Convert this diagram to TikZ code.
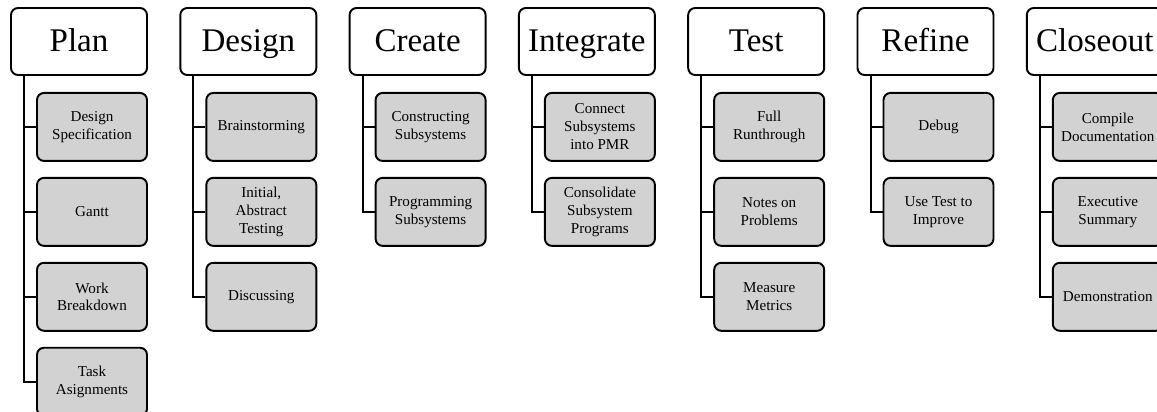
\documentclass[tikz,border=0pt]{standalone}
\usepackage{fontspec}
\setmainfont{Liberation Serif}
\usetikzlibrary{positioning,calc}
\tikzset{
	phase/.style = {
		draw, 
		fill=white, 
		rectangle, 
		minimum width=2.72cm, 
		minimum height=1.34cm, 
		text height=15pt, 
		text depth=4pt, 
		line width=1.1pt, 
		rounded corners=4pt, 
		font=\fontsize{18.8}{22}\selectfont
	},
	task/.style = {
		draw, 
		fill=gray!35, 
		rectangle, 
		minimum width=2.2cm, 
		minimum height=1.36cm, 
		line width=1.1pt, 
		align=center, 
		rounded corners=4pt, 
		font=\fontsize{8.6}{10.2}\selectfont
	},
	link/.style = {
		line width=1.1pt
	}
}
\begin{document}
\begin{tikzpicture}
		
		\useasboundingbox (0,0) rectangle (23.14,-8.24);
		
		% --- Fases ---
		\node [phase] (plan) at (1.58,-0.83) {Plan};
		\node [phase] (design) at (4.966,-0.83) {Design};
		\node [phase] (create) at (8.352,-0.83) {Create};
		\node [phase] (integrate) at (11.738,-0.83) {Integrate};
		\node [phase] (test) at (15.124,-0.83) {Test};
		\node [phase] (refine) at (18.51,-0.83) {Refine};
		\node [phase] (closeout) at (21.896,-0.83) {Closeout};
		
		% --- Tareas de Plan ---
		\node [task, below=0.32cm of plan, xshift=0.26cm] (plan1) {Design\\ Specification};
		\node [task, below=0.30cm of plan1] (plan2) {Gantt};
		\node [task, below=0.30cm of plan2] (plan3) {Work\\ Breakdown};
		\node [task, below=0.30cm of plan3] (plan4) {Task\\ Asignments};
		
		% --- Tareas de Design ---
		\node [task, below=0.32cm of design, xshift=0.26cm] (design1) {Brainstorming};
		\node [task, below=0.30cm of design1] (design2) {Initial,\\ Abstract\\ Testing};
		\node [task, below=0.30cm of design2] (design3) {Discussing};
		
		% --- Tareas de Create ---
		\node [task, below=0.32cm of create, xshift=0.26cm] (create1) {Constructing\\ Subsystems};
		\node [task, below=0.30cm of create1] (create2) {Programming\\ Subsystems};
		
		% --- Tareas de Integrate ---
		\node [task, below=0.32cm of integrate, xshift=0.26cm] (integrate1) {Connect\\ Subsystems\\ into PMR};
		\node [task, below=0.30cm of integrate1] (integrate2) {Consolidate\\ Subsystem\\ Programs};
		
		% --- Tareas de Test ---
		\node [task, below=0.32cm of test, xshift=0.26cm] (test1) {Full\\ Runthrough};
		\node [task, below=0.30cm of test1] (test2) {Notes on\\ Problems};
		\node [task, below=0.30cm of test2] (test3) {Measure\\ Metrics};
		
		% --- Tareas de Refine ---
		\node [task, below=0.32cm of refine, xshift=0.26cm] (refine1) {Debug};
		\node [task, below=0.30cm of refine1] (refine2) {Use Test to\\ Improve};
		
		% --- Tareas de Closeout ---
		\node [task, below=0.32cm of closeout, xshift=0.26cm] (closeout1) {Compile\\ Documentation};
		\node [task, below=0.30cm of closeout1] (closeout2) {Executive\\ Summary};
		\node [task, below=0.30cm of closeout2] (closeout3) {Demonstration};
		
		% --- CONEXIONES ---
		\draw [link] ([xshift=0.28cm]plan.south west) |- (plan1.west)
		([xshift=0.28cm]plan.south west) |- (plan2.west)
		([xshift=0.28cm]plan.south west) |- (plan3.west)
		([xshift=0.28cm]plan.south west) |- (plan4.west);
		\draw [link] ([xshift=0.28cm]design.south west) |- (design1.west)
		([xshift=0.28cm]design.south west) |- (design2.west)
		([xshift=0.28cm]design.south west) |- (design3.west);
		\draw [link] ([xshift=0.28cm]create.south west) |- (create1.west)
		([xshift=0.28cm]create.south west) |- (create2.west);
		\draw [link] ([xshift=0.28cm]integrate.south west) |- (integrate1.west)
		([xshift=0.28cm]integrate.south west) |- (integrate2.west);
		\draw [link] ([xshift=0.28cm]test.south west) |- (test1.west)
		([xshift=0.28cm]test.south west) |- (test2.west)
		([xshift=0.28cm]test.south west) |- (test3.west);
		\draw [link] ([xshift=0.28cm]refine.south west) |- (refine1.west)
		([xshift=0.28cm]refine.south west) |- (refine2.west);
		\draw [link] ([xshift=0.28cm]closeout.south west) |- (closeout1.west)
		([xshift=0.28cm]closeout.south west) |- (closeout2.west)
		([xshift=0.28cm]closeout.south west) |- (closeout3.west);
		
	\end{tikzpicture}
\end{document}
